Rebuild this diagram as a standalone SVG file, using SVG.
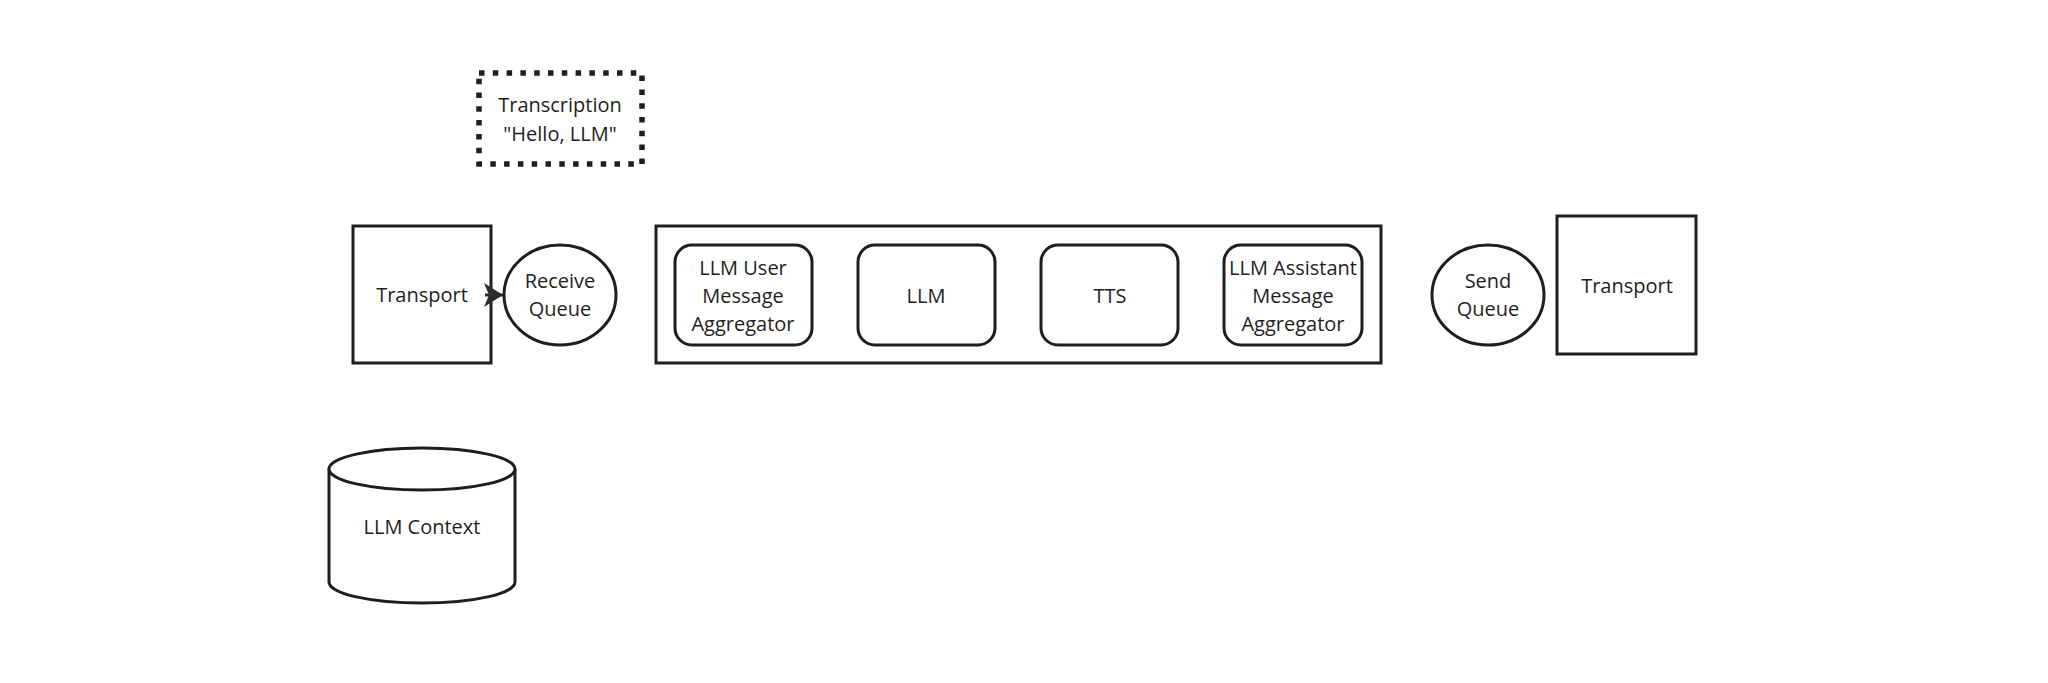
<svg xmlns="http://www.w3.org/2000/svg" width="2048" height="683" viewBox="0 0 2048 683">
<defs>
<style>
.s{fill:#fff;stroke:#1e1e1e;stroke-width:3}
.t{font-family:"Open Sans","Noto Sans","Liberation Sans",sans-serif;font-size:20px;fill:#1e1e1e;text-anchor:middle}
</style>
<marker id="ah" viewBox="0 0 20 24" refX="19" refY="12" markerWidth="20" markerHeight="24" markerUnits="userSpaceOnUse" orient="auto">
<path d="M0,0 L19,12 L0,24 L5,12 Z" fill="#2b2b2b"/>
</marker>
</defs>
<rect width="2048" height="683" fill="#fff"/>
<g id="transcription">
<rect x="479" y="73" width="163" height="91" fill="none" stroke="#1e1e1e" stroke-width="5.5" stroke-dasharray="5.5 8.3"/>
<text class="t" x="560" y="112">Transcription</text>
<text class="t" x="560" y="141">"Hello, LLM"</text>
</g>
<g id="transport-in">
<rect class="s" x="353" y="226" width="138" height="137"/>
<text class="t" x="422" y="302">Transport</text>
</g>
<g id="receive-queue">
<ellipse class="s" cx="560" cy="295" rx="56" ry="50"/>
<text class="t" x="560" y="288">Receive</text>
<text class="t" x="560" y="316">Queue</text>
</g>
<g id="pipeline">
<rect class="s" x="656" y="226" width="725" height="137"/>
</g>
<g id="user-agg">
<rect class="s" x="675" y="245" width="137" height="100" rx="17"/>
<text class="t" x="743" y="275">LLM User</text>
<text class="t" x="743" y="303">Message</text>
<text class="t" x="743" y="331">Aggregator</text>
</g>
<g id="llm">
<rect class="s" x="858" y="245" width="137" height="100" rx="17"/>
<text class="t" x="926" y="303">LLM</text>
</g>
<g id="tts">
<rect class="s" x="1041" y="245" width="137" height="100" rx="17"/>
<text class="t" x="1110" y="303">TTS</text>
</g>
<g id="assistant-agg">
<rect class="s" x="1224" y="245" width="138" height="100" rx="17"/>
<text class="t" x="1293" y="275">LLM Assistant</text>
<text class="t" x="1293" y="303">Message</text>
<text class="t" x="1293" y="331">Aggregator</text>
</g>
<g id="send-queue">
<ellipse class="s" cx="1488" cy="295" rx="56" ry="50"/>
<text class="t" x="1488" y="288">Send</text>
<text class="t" x="1488" y="316">Queue</text>
</g>
<g id="transport-out">
<rect class="s" x="1557" y="216" width="139" height="138"/>
<text class="t" x="1627" y="293">Transport</text>
</g>
<g id="llm-context">
<path class="s" d="M329,469 L329,582 A93,21 0 0 0 515,582 L515,469"/>
<ellipse class="s" cx="422" cy="469" rx="93" ry="21"/>
<text class="t" x="422" y="534">LLM Context</text>
</g>
<g id="connectors">
<line x1="485" y1="295" x2="503" y2="295" stroke="#2b2b2b" stroke-width="3" marker-end="url(#ah)"/>
</g>
</svg>
